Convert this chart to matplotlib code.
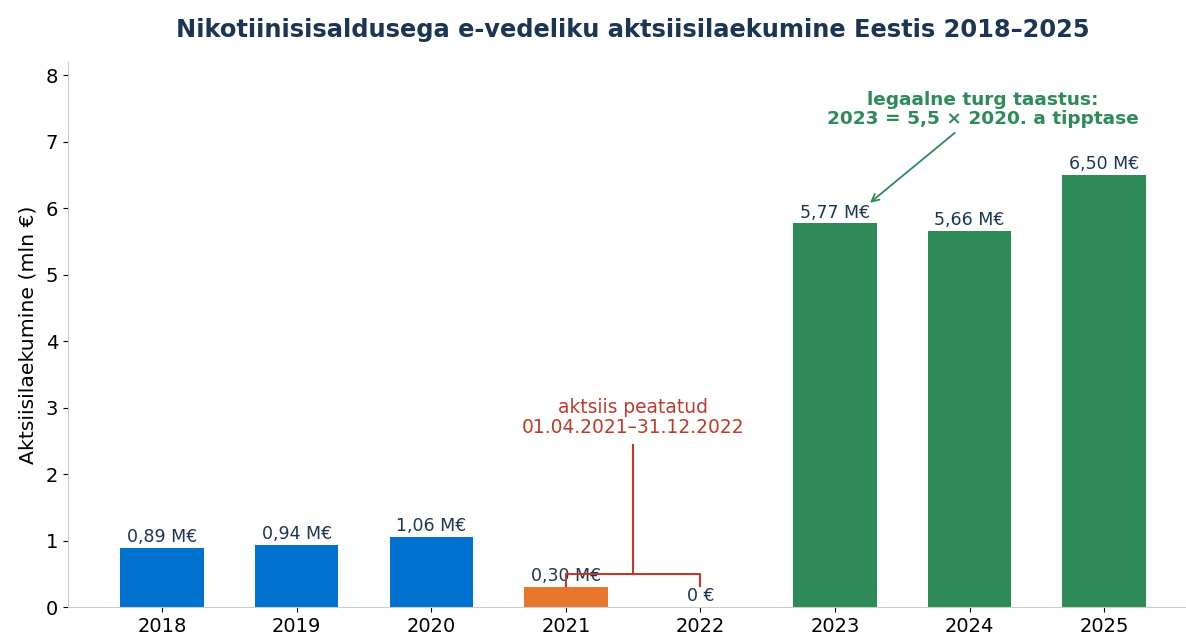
import matplotlib
matplotlib.use("Agg")
import numpy as np
from matplotlib import pyplot as plt

years = ["2018", "2019", "2020", "2021", "2022", "2023", "2024", "2025"]
revenue = [0.89, 0.94, 1.06, 0.30, 0.0, 5.77, 5.66, 6.50]
labels = ["0,89 M€", "0,94 M€", "1,06 M€", "0,30 M€", "0 €", "5,77 M€", "5,66 M€", "6,50 M€"]
colors = ["#0071ce", "#0071ce", "#0071ce", "#e8762d", "#e8762d", "#2e8b57", "#2e8b57", "#2e8b57"]

NAVY = "#1c3552"
RED = "#c0392b"
GREEN = "#2e8b57"

fig = plt.figure(figsize=(11.86, 6.37), dpi=100)
ax = fig.add_axes([0.0573, 0.047, 0.9417, 0.856])

x = np.arange(len(years))
ax.bar(x, revenue, width=0.62, color=colors, zorder=2)

for xi, v, lab in zip(x, revenue, labels):
    ax.text(xi, v + 0.025, lab, ha="center", va="bottom", fontsize=12.5, color=NAVY, zorder=3)

ax.set_xticks(x)
ax.set_xticklabels(years, fontsize=14)
ax.tick_params(axis="y", labelsize=14)
ax.set_xlim(-0.7, 7.6)
ax.set_ylim(0, 8.2)
ax.set_yticks(range(0, 9))
ax.set_ylabel("Aktsiisilaekumine (mln €)", fontsize=14.7, labelpad=6)

for side in ["top", "right"]:
    ax.spines[side].set_visible(False)
for side in ["left", "bottom"]:
    ax.spines[side].set_color("#cccccc")

ax.set_title("Nikotiinisisaldusega e-vedeliku aktsiisilaekumine Eestis 2018–2025",
             fontsize=17.4, fontweight="bold", color=NAVY, pad=18, x=0.506)

# bracket for suspended excise
ax.plot([3, 3, 4, 4], [0.32, 0.5, 0.5, 0.32], color=RED, lw=1.5, zorder=4)
ax.plot([3.5, 3.5], [0.5, 2.44], color=RED, lw=1.5, zorder=4)
ax.text(3.5, 2.55, "aktsiis peatatud\n01.04.2021–31.12.2022", ha="center", va="bottom",
        fontsize=13.4, color=RED, linespacing=1.1)

ax.annotate("legaalne turg taastus:\n2023 = 5,5 × 2020. a tipptase",
            xy=(5.26, 6.08), xytext=(6.1, 7.2), ha="center", va="bottom",
            fontsize=13.3, fontweight="bold", color=GREEN, linespacing=1.1,
            arrowprops=dict(arrowstyle="->", color=GREEN, lw=1.3, shrinkA=2, shrinkB=0))

plt.savefig("out.png", dpi=100)
